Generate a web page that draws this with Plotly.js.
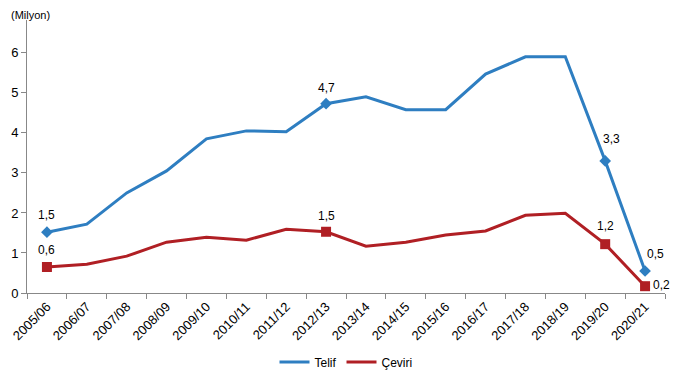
<!DOCTYPE html>
<html>
<head>
<meta charset="utf-8">
<script src="https://cdn.plot.ly/plotly-3.0.1.min.js"></script>
<style>body{margin:0;padding:0;background:#fff;}#chart{width:680px;height:387px;}</style>
</head>
<body>
<div id="chart"></div>
<script>
const categories = ["2005/06","2006/07","2007/08","2008/09","2009/10","2010/11","2011/12","2012/13","2013/14","2014/15","2015/16","2016/17","2017/18","2018/19","2019/20","2020/21"];
const telif = [1.52,1.72,2.5,3.05,3.85,4.05,4.03,4.73,4.9,4.58,4.58,5.47,5.9,5.9,3.3,0.55];
const ceviri = [0.65,0.72,0.92,1.27,1.39,1.32,1.59,1.53,1.17,1.27,1.45,1.55,1.94,1.99,1.22,0.17];
const markIdx = [0,7,14,15];
const telifLabels = ["1,5","4,7","3,3","0,5"];
const ceviriLabels = ["0,6","1,5","1,2","0,2"];

const font = "Liberation Sans, Arial, sans-serif";
const blue = "#2E7EC1", red = "#B01F24";

const data = [
  {x: categories, y: telif, name: "Telif", type: "scatter", mode: "lines",
   line: {color: blue, width: 3}},
  {x: categories, y: ceviri, name: "Çeviri", type: "scatter", mode: "lines",
   line: {color: red, width: 3}},
  {x: markIdx.map(i=>categories[i]), y: markIdx.map(i=>telif[i]), type: "scatter", mode: "markers",
   showlegend: false, marker: {symbol: "diamond", size: 9, color: blue, opacity: 1, line: {width: 0}}, cliponaxis: false},
  {x: markIdx.map(i=>categories[i]), y: markIdx.map(i=>ceviri[i]), type: "scatter", mode: "markers",
   showlegend: false, marker: {symbol: "square", size: 10, color: red, opacity: 1, line: {width: 0}}, cliponaxis: false}
];

const telifShift = [[0,17],[0,16],[6,22],[10,17]];
const ceviriShift = [[0,17],[0,16],[0,18],[16,1]];
const annotations = [];
markIdx.forEach((idx,k)=>{
  annotations.push({x: categories[idx], y: telif[idx], xref: "x", yref: "y", text: telifLabels[k], showarrow: false,
    xshift: telifShift[k][0], yshift: telifShift[k][1], font: {family: font, size: 12, color: "#000"}});
  annotations.push({x: categories[idx], y: ceviri[idx], xref: "x", yref: "y", text: ceviriLabels[k], showarrow: false,
    xshift: ceviriShift[k][0], yshift: ceviriShift[k][1], font: {family: font, size: 12, color: "#000"}});
});
annotations.push({text: "(Milyon)", xref: "paper", yref: "paper", x: -0.028, y: 1.02, xanchor: "left", yanchor: "middle",
  showarrow: false, font: {family: font, size: 11, color: "#000"}});

const layout = {
  width: 680, height: 387,
  margin: {l: 27, r: 15, t: 20, b: 93},
  paper_bgcolor: "#fff", plot_bgcolor: "#fff",
  font: {family: font, size: 12, color: "#000"},
  showlegend: true,
  legend: {orientation: "h", x: 0.5, xanchor: "center", y: -0.248, yanchor: "middle",
           font: {family: font, size: 12, color: "#000"}, traceorder: "normal"},
  xaxis: {type: "category", range: [-0.5, 15.5], showgrid: false, zeroline: false, automargin: false,
          showline: true, linecolor: "#888", linewidth: 1, ticks: "outside", ticklen: 5, tickcolor: "#888",
          tickson: "boundaries", tickangle: -45, tickfont: {family: font, size: 13, color: "#000"}},
  yaxis: {range: [0, 6.82], dtick: 1, showgrid: false, zeroline: false, automargin: false,
          showline: true, linecolor: "#888", linewidth: 1, ticks: "outside", ticklen: 5, tickcolor: "#888",
          tickfont: {family: font, size: 13, color: "#000"}},
  annotations: annotations
};

Plotly.newPlot("chart", data, layout, {displayModeBar: false, staticPlot: true});
</script>
</body>
</html>
